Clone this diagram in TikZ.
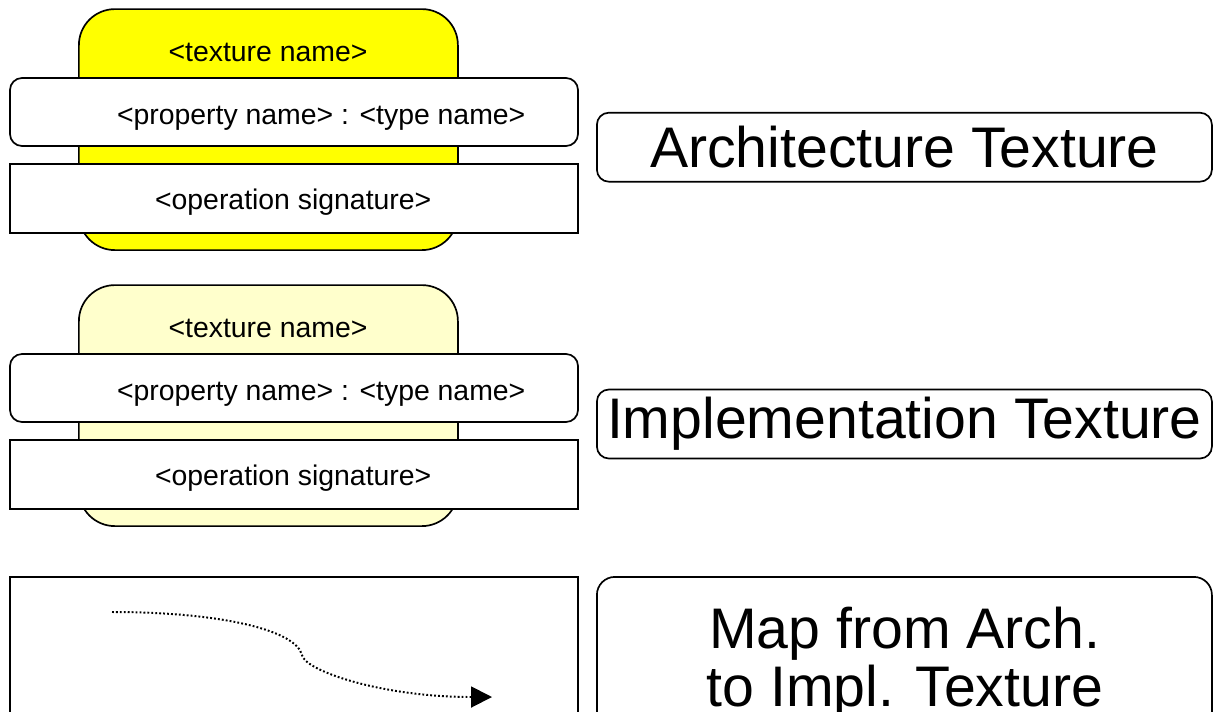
\documentclass[tikz,border=0pt]{standalone}
\usepackage{fontspec}
\setmainfont{Liberation Sans}
\usepackage{xcolor}
\usetikzlibrary{arrows.meta, positioning}
\definecolor{archyellow}{HTML}{FFFF00}
\definecolor{implyellow}{HTML}{FFFFCC}
\tikzset{
    every node/.style={inner sep=0pt}, % boxes get their size from minimum width/height
    texturebox/.style={draw, line width=1.2pt, rounded corners=0.9cm, minimum width=9.475cm, minimum height=6.025cm}, % the big rounded texture shape
    propbox/.style={draw, fill=white, line width=1.2pt, rounded corners=0.3cm, minimum width=14.2cm, minimum height=1.7cm},
    opbox/.style={draw, fill=white, line width=1.2pt, minimum width=14.2cm, minimum height=1.725cm},
    titlebox/.style={draw, line width=1.2pt, rounded corners=0.3cm, minimum width=15.375cm, minimum height=1.725cm},
    smalltext/.style={font=\fontsize{20.2pt}{24pt}\selectfont},
    bigtext/.style={font=\fontsize{40.7pt}{41.5pt}\selectfont},
    maparrow/.style={line width=1.4pt, dash pattern=on 1.3pt off 1.5pt, -{Triangle[length=0.525cm, width=0.525cm]}},
}

\begin{document}
\begin{tikzpicture}
    \useasboundingbox (0,0) rectangle (30.4,-17.775);
    \clip (0,0) rectangle (30.4,-17.775);

    % Architecture Texture
    \node[texturebox, fill=archyellow] (arch) at (6.71,-3.24) {};
    \node[smalltext] (archname) at (6.7,-1.32) {<texture name>};
    \node[propbox] (archprop) at (7.35,-2.8) {};
    \node[smalltext] (archproptext) at (8.03,-2.95) {<property name> : <type name>};
    \node[opbox] (archop) at (7.35,-4.96) {};
    \node[smalltext] (archoptext) at (7.33,-5.05) {<operation signature>};
    \node[titlebox, bigtext] (archtitle) at (22.61,-3.68) {Architecture Texture};

    % Implementation Texture
    \node[texturebox, fill=implyellow] (impl) at (6.71,-10.14) {};
    \node[smalltext] (implname) at (6.7,-8.22) {<texture name>};
    \node[propbox] (implprop) at (7.35,-9.7) {};
    \node[smalltext] (implproptext) at (8.03,-9.85) {<property name> : <type name>};
    \node[opbox] (implop) at (7.35,-11.86) {};
    \node[smalltext] (imploptext) at (7.33,-11.95) {<operation signature>};
    \node[titlebox, bigtext] (impltitle) at (22.61,-10.6) {Implementation Texture};

    % Map from Arch. to Impl.
    \node[draw, line width=1.2pt, minimum width=14.2cm, minimum height=5.575cm] (map) at (7.35,-17.21) {};
    \node[titlebox, rounded corners=0.45cm, minimum height=5.575cm] (maptitle) at (22.61,-17.21) {};
    \node[bigtext, align=center] (maptext) at (22.62,-16.57) {Map from Arch.\\to Impl. Texture};
    \coordinate (mapstart) at (2.8,-15.3);
    \coordinate (mapmid) at (7.55,-16.375);
    \coordinate (mapend) at (12.3,-17.425);
    \draw[maparrow] (mapstart) .. controls (5.5,-15.3) and (7.4,-15.75) .. (mapmid)
        .. controls (7.6,-16.75) and (9.5,-17.425) .. (mapend);
\end{tikzpicture}
\end{document}
